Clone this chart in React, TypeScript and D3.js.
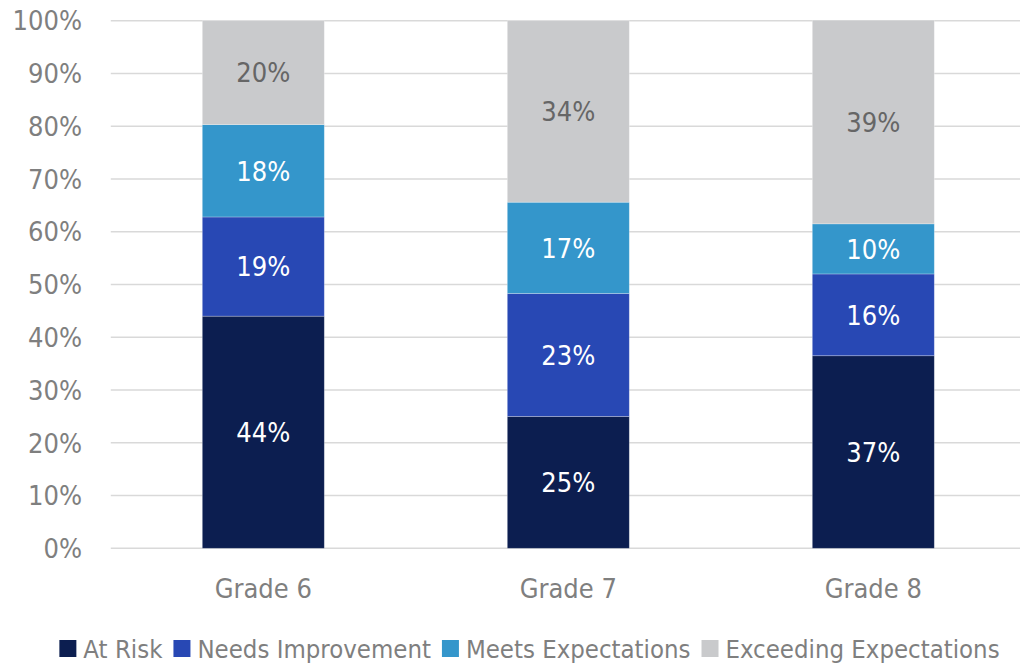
import React, { useEffect, useRef } from "react";
import * as d3 from "d3";

const grades = ["Grade 6", "Grade 7", "Grade 8"];
const seriesNames = ["At Risk", "Needs Improvement", "Meets Expectations", "Exceeding Expectations"];
const atRisk = [44.0, 25.0, 36.5];
const needsImprovement = [18.8, 23.3, 15.5];
const meetsExpectations = [17.5, 17.3, 9.5];
const exceedingExpectations = [19.7, 34.4, 38.6];
const yTicks = [0, 10, 20, 30, 40, 50, 60, 70, 80, 90, 100];
const colors = ["#0c1e50", "#2848b4", "#3496cb", "#c9cacc"];
const labelColors = ["#ffffff", "#ffffff", "#ffffff", "#666666"];

const W = 1020;
const H = 663;
const FONT = "'DejaVu Sans Condensed', sans-serif";
const FS = 27;
const LFS = 25.5;

export default function App() {
  const ref = useRef<SVGSVGElement | null>(null);

  useEffect(() => {
    const svg = d3.select(ref.current);
    svg.selectAll("*").remove();

    const x0 = 110.8;
    const bandW = 305;
    const x = d3.scaleBand<string>().domain(grades).range([x0, x0 + bandW * grades.length]).paddingInner(0.6).paddingOuter(0.3);
    const y = d3.scaleLinear().domain([0, 100]).range([548.3, 20.7]);

    const rows = grades.map((g, i) => ({
      grade: g,
      "At Risk": atRisk[i],
      "Needs Improvement": needsImprovement[i],
      "Meets Expectations": meetsExpectations[i],
      "Exceeding Expectations": exceedingExpectations[i],
    }));
    const stack = d3.stack<any>().keys(seriesNames);
    const stacked = stack(rows);

    svg
      .append("g")
      .selectAll("line")
      .data(yTicks)
      .join("line")
      .attr("x1", x0)
      .attr("x2", W)
      .attr("y1", (d) => y(d))
      .attr("y2", (d) => y(d))
      .attr("stroke", "#d9d9d9")
      .attr("stroke-width", 1.5);

    svg
      .append("g")
      .selectAll("text")
      .data(yTicks)
      .join("text")
      .attr("x", 82)
      .attr("y", (d) => y(d))
      .attr("dy", "0.36em")
      .attr("text-anchor", "end")
      .attr("font-family", FONT)
      .attr("font-size", FS)
      .attr("fill", "#7f7f7f")
      .text((d) => `${d}%`);

    const bw = 122;
    stacked.forEach((s, si) => {
      const key = seriesNames[si];
      const g = svg.append("g");
      g.selectAll("rect")
        .data(s)
        .join("rect")
        .attr("x", (d: any) => x(d.data.grade)! + x.bandwidth() / 2 - bw / 2)
        .attr("width", bw)
        .attr("y", (d) => y(d[1]))
        .attr("height", (d) => y(d[0]) - y(d[1]))
        .attr("fill", colors[si])
        .attr("stroke", "#ffffff")
        .attr("stroke-opacity", 0.35)
        .attr("stroke-width", 0.75);
      g.selectAll("text")
        .data(s)
        .join("text")
        .attr("x", (d: any) => x(d.data.grade)! + x.bandwidth() / 2)
        .attr("y", (d) => (y(d[0]) + y(d[1])) / 2)
        .attr("dy", "0.36em")
        .attr("text-anchor", "middle")
        .attr("font-family", FONT)
        .attr("font-size", FS)
        .attr("fill", labelColors[si])
        .text((d: any) => `${Math.round(d.data[key])}%`);
    });

    svg
      .append("g")
      .selectAll("text")
      .data(grades)
      .join("text")
      .attr("x", (d) => x(d)! + x.bandwidth() / 2)
      .attr("y", 598)
      .attr("text-anchor", "middle")
      .attr("font-family", FONT)
      .attr("font-size", FS)
      .attr("fill", "#7f7f7f")
      .text((d) => d);

    const lg = svg.append("g");
    const sq = 17;
    const gapIn = 7;
    const gapOut = 11;
    const items = seriesNames.map((n, i) => {
      const item = lg.append("g");
      item.append("rect").attr("width", sq).attr("height", sq).attr("y", 640).attr("fill", colors[i]);
      const t = item
        .append("text")
        .attr("x", sq + gapIn)
        .attr("y", 657.5)
        .attr("font-family", FONT)
        .attr("font-size", LFS)
        .attr("fill", "#7f7f7f")
        .text(n);
      const tw = (t.node() as SVGTextElement).getComputedTextLength();
      return { item, w: sq + gapIn + tw };
    });
    const total = d3.sum(items, (d) => d.w) + gapOut * (items.length - 1);
    let cx = 529.5 - total / 2;
    items.forEach((it) => {
      it.item.attr("transform", `translate(${cx},0)`);
      cx += it.w + gapOut;
    });
  }, []);

  return (
    <svg
      ref={ref}
      width={W}
      height={H}
      style={{ position: "absolute", left: 0, top: 0, background: "#ffffff" }}
    />
  );
}
